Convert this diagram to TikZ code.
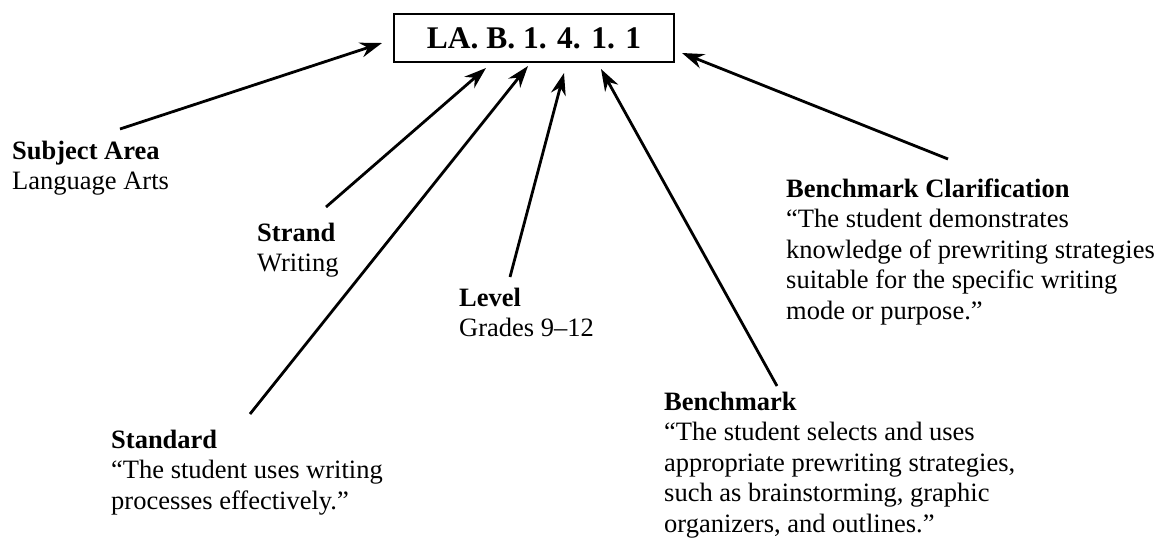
\documentclass[tikz,border=0pt]{standalone}
\usepackage{fontspec}
\setmainfont{Liberation Serif}
\usetikzlibrary{arrows.meta}

\begin{document}
\begin{tikzpicture}[x=1pt, y=-1pt,
  lab/.style = {anchor=base west, align=left, inner sep=0pt, font=\fontsize{26.5}{30.5}\selectfont},
  ptr/.style = {line width=2.8pt, -{Stealth[length=22pt,width=15pt]}}]
\useasboundingbox (0,0) rectangle (1162,542);
\node[draw, line width=2.8pt, minimum width=280pt, minimum height=48pt, inner sep=0pt, font=\fontsize{31.5}{36}\selectfont\bfseries](code) at (534,38) {LA. B. 1. 4. 1. 1};
% the six parts of the code (placed by the baseline of their last line)
\node[lab](subj) at (12,189.5) {\textbf{Subject Area}\\Language Arts};
\node[lab](strand) at (257,271.5) {\textbf{Strand}\\Writing};
\node[lab](level) at (459,336.5) {\textbf{Level}\\Grades 9–12};
\node[lab](std) at (111,509) {\textbf{Standard}\\“The student uses writing\\processes effectively.”};
\node[lab](bench) at (664,532) {\textbf{Benchmark}\\“The student selects and uses\\appropriate prewriting strategies,\\such as brainstorming, graphic\\organizers, and outlines.”};
\node[lab](clar) at (786,319) {\textbf{Benchmark Clarification}\\“The student demonstrates\\knowledge of prewriting strategies\\suitable for the specific writing\\mode or purpose.”};
% arrow ends
\coordinate (s1) at (120,129); \coordinate (s2) at (326,207); \coordinate (s3) at (250,414); \coordinate (s4) at (510,277); \coordinate (s5) at (777,386); \coordinate (s6) at (948,159);
\coordinate (t1) at (382,43); \coordinate (t2) at (486,68); \coordinate (t3) at (528,66); \coordinate (t4) at (564,73); \coordinate (t5) at (601,69); \coordinate (t6) at (682,53);
\draw[ptr] (s1) -- (t1); \draw[ptr] (s2) -- (t2); \draw[ptr] (s3) -- (t3);
\draw[ptr] (s4) -- (t4); \draw[ptr] (s5) -- (t5); \draw[ptr] (s6) -- (t6);
\end{tikzpicture}
\end{document}
